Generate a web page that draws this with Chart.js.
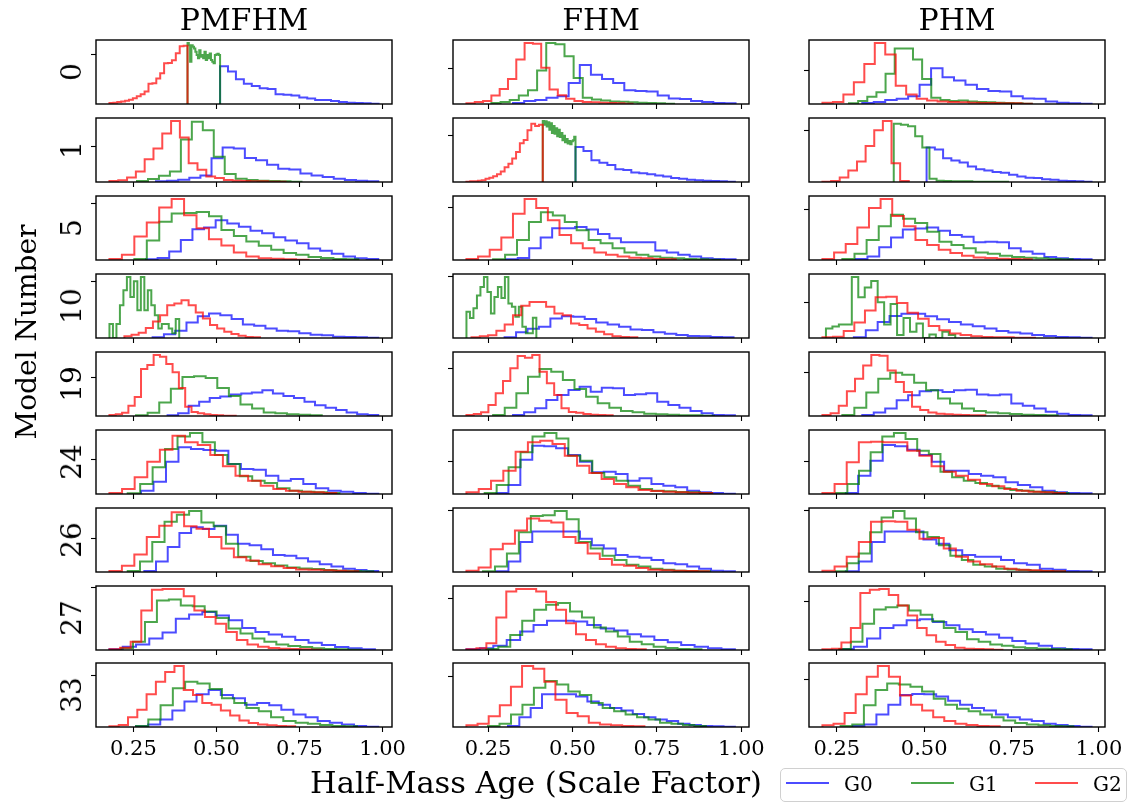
<!DOCTYPE html>
<html>
<head>
<meta charset="utf-8">
<script src="https://cdn.jsdelivr.net/npm/chart.js@4.4.0/dist/chart.umd.min.js"></script>
<style>
  body { margin: 0; width: 1139px; height: 803px; position: relative; overflow: hidden; background: #fff; font-family: 'DejaVu Serif', serif; color: #000; }
  canvas { position: absolute; }
  .txt { position: absolute; white-space: nowrap; line-height: 1; }
  .legend { position: absolute; left: 780px; top: 768px; width: 347px; height: 34px; box-sizing: border-box; border: 1px solid #d0d0d0; border-radius: 5px; background: #fff; }
  .swatch { position: absolute; height: 2px; }
</style>
</head>
<body>
<script>
// Half-mass age histograms: 3 methods x 9 models, three generations each
const methods = ['PMFHM', 'FHM', 'PHM'];
const models = ['0', '1', '5', '10', '19', '24', '26', '27', '33'];
const groups = ['G0', 'G1', 'G2'];
const xTicks = [0.25, 0.5, 0.75, 1.0];

// y tick position per panel, rows = models, cols = methods
const yTickAt = [
  [152, 109, 102],
  [109, 142, 157],
  [173, 159, 153],
  [172, 187, 109],
  [118, 143, 133],
  [105, 98, 98],
  [104, 190, 190],
  [190, 155, 147],
  [158, 153, 146]
];

// ---- PMFHM ----  edges = [first, last] bin edge for G0, G1, G2
const PMFHM_0_edges = [[0.511, 0.988], [0.413, 0.511], [0.178, 0.413]];
const PMFHM_0_G0 = [116, 100, 76, 62, 55, 48, 46, 30, 28, 26, 20, 17, 12, 12, 9, 6, 4, 3, 2, 1];
const PMFHM_0_G1 = [187, 180, 130, 180, 176, 170, 160, 150, 140, 165, 145, 150, 140, 160, 135, 150, 140, 155, 135, 130, 125, 150, 152, 154, 150];
const PMFHM_0_G2 = [3, 4, 6, 8, 10, 13, 18, 24, 30, 38, 62, 64, 78, 94, 125, 126, 134, 156, 177, 179];

const PMFHM_1_edges = [[0.318, 0.987], [0.261, 0.756], [0.178, 0.708]];
const PMFHM_1_G0 = [2, 4, 7, 13, 20, 72, 105, 102, 73, 66, 52, 40, 38, 26, 20, 15, 10, 6, 4, 2];
const PMFHM_1_G1 = [3, 9, 19, 32, 129, 183, 157, 77, 24, 10, 6, 4, 3, 2, 1];
const PMFHM_1_G2 = [3, 5, 14, 32, 69, 102, 147, 185, 135, 57, 37, 17, 12, 6, 4, 3, 2, 2, 1, 1];

const PMFHM_5_edges = [[0.288, 0.987], [0.253, 0.927], [0.178, 0.777]];
const PMFHM_5_G0 = [2, 6, 26, 61, 93, 99, 121, 111, 101, 89, 81, 69, 59, 51, 35, 28, 19, 11, 5, 3];
const PMFHM_5_G1 = [3, 59, 116, 141, 143, 146, 133, 91, 73, 56, 43, 31, 21, 16, 9, 6, 3, 2];
const PMFHM_5_G2 = [3, 16, 71, 114, 159, 185, 136, 96, 63, 44, 23, 11, 5, 4, 2, 1];

const PMFHM_10_edges = [[0.308, 0.987], [0.178, 0.388], [0.223, 0.631]];
const PMFHM_10_G0 = [2, 11, 22, 47, 66, 74, 69, 57, 41, 37, 29, 22, 20, 14, 10, 8, 4, 3, 2, 1];
const PMFHM_10_G1 = [42, 0, 42, 99, 144, 184, 124, 171, 84, 184, 84, 144, 99, 69, 29, 42, 42, 29, 14, 57];
const PMFHM_10_G2 = [5, 10, 16, 30, 50, 69, 99, 104, 114, 99, 77, 59, 39, 29, 19, 12, 7, 3, 2];

const PMFHM_19_edges = [[0.353, 0.987], [0.258, 0.817], [0.178, 0.558]];
const PMFHM_19_G0 = [2, 8, 31, 43, 55, 59, 65, 68, 71, 78, 68, 61, 55, 43, 33, 25, 18, 11, 5, 3];
const PMFHM_19_G1 = [2, 10, 41, 83, 118, 121, 115, 85, 61, 35, 23, 11, 8, 5, 4, 2];
const PMFHM_19_G2 = [3, 5, 10, 31, 58, 143, 155, 185, 180, 158, 133, 85, 28, 12, 8, 5, 3, 2, 1, 1];

const PMFHM_24_edges = [[0.273, 0.987], [0.233, 0.870], [0.178, 0.861]];
const PMFHM_24_G0 = [10, 37, 97, 140, 135, 132, 130, 90, 75, 73, 55, 40, 45, 30, 17, 10, 7, 3, 1];
const PMFHM_24_G1 = [2, 30, 80, 135, 173, 183, 155, 117, 90, 53, 40, 33, 17, 10, 7, 5, 3];
const PMFHM_24_G2 = [3, 15, 50, 97, 133, 175, 155, 147, 117, 83, 55, 40, 25, 15, 10, 7, 5, 3];

const PMFHM_26_edges = [[0.283, 0.987], [0.233, 0.972], [0.178, 0.927]];
const PMFHM_26_G0 = [3, 32, 77, 120, 137, 132, 142, 114, 87, 82, 70, 52, 50, 42, 32, 24, 17, 10, 6, 3];
const PMFHM_26_G1 = [3, 32, 92, 154, 176, 187, 152, 140, 87, 47, 34, 27, 20, 14, 11, 9, 6, 4, 3, 2];
const PMFHM_26_G2 = [3, 19, 54, 107, 142, 183, 140, 133, 107, 72, 45, 35, 24, 18, 12, 8, 7, 5, 4, 2];

const PMFHM_27_edges = [[0.178, 0.977], [0.213, 0.932], [0.178, 0.817]];
const PMFHM_27_G0 = [2, 10, 17, 35, 53, 95, 108, 115, 105, 90, 67, 55, 47, 40, 30, 22, 15, 9, 5, 2];
const PMFHM_27_G1 = [5, 25, 85, 150, 153, 135, 133, 117, 97, 65, 50, 35, 25, 17, 12, 9, 5, 3, 2, 1];
const PMFHM_27_G2 = [2, 7, 25, 120, 183, 185, 185, 163, 120, 100, 80, 55, 30, 17, 10, 6, 4, 3, 2, 1];

const PMFHM_33_edges = [[0.258, 0.987], [0.258, 0.923], [0.178, 0.737]];
const PMFHM_33_G0 = [2, 8, 23, 50, 78, 100, 113, 98, 88, 68, 73, 66, 53, 38, 30, 18, 13, 8, 3, 1];
const PMFHM_33_G1 = [3, 23, 66, 118, 138, 133, 116, 88, 73, 58, 48, 30, 18, 13, 10, 6, 3, 2];
const PMFHM_33_G2 = [2, 6, 30, 53, 100, 138, 168, 186, 113, 98, 73, 68, 50, 35, 20, 12, 8, 5, 3, 2];

// ---- FHM ----
const FHM_0_edges = [[0.324, 0.983], [0.260, 0.801], [0.186, 0.678]];
const FHM_0_G0 = [3, 9, 12, 19, 24, 64, 119, 89, 76, 64, 42, 40, 38, 26, 17, 15, 9, 6, 3, 2];
const FHM_0_G1 = [3, 6, 12, 26, 42, 102, 186, 182, 146, 79, 19, 14, 11, 8, 7, 5, 4, 3, 2, 1];
const FHM_0_G2 = [2, 6, 9, 26, 46, 76, 136, 186, 184, 111, 44, 27, 16, 9, 6, 5, 4, 3, 2, 1];

const FHM_1_edges = [[0.509, 0.981], [0.412, 0.509], [0.186, 0.412]];
const FHM_1_G0 = [107, 95, 67, 59, 52, 39, 37, 29, 27, 24, 20, 17, 12, 10, 7, 5, 4, 3, 2, 1];
const FHM_1_G1 = [187, 176, 186, 170, 183, 160, 180, 150, 172, 148, 165, 140, 160, 138, 150, 128, 142, 122, 132, 118, 126, 116, 125, 128, 139];
const FHM_1_G2 = [1, 2, 2, 4, 5, 10, 13, 18, 24, 32, 45, 56, 72, 92, 119, 129, 159, 179, 172, 176];

const FHM_5_edges = [[0.304, 0.983], [0.265, 0.937], [0.186, 0.806]];
const FHM_5_G0 = [2, 6, 36, 69, 97, 97, 101, 93, 79, 66, 54, 54, 54, 29, 23, 16, 11, 5, 3, 2];
const FHM_5_G1 = [2, 16, 61, 116, 146, 136, 116, 91, 61, 51, 36, 23, 16, 11, 7, 5, 3, 2, 1];
const FHM_5_G2 = [3, 11, 31, 69, 141, 186, 159, 121, 76, 51, 36, 23, 16, 11, 7, 5, 3, 2];

const FHM_10_edges = [[0.299, 0.977], [0.186, 0.393], [0.201, 0.692]];
const FHM_10_G0 = [2, 17, 28, 34, 59, 66, 64, 57, 47, 41, 34, 26, 24, 17, 13, 9, 6, 5, 3, 2];
const FHM_10_G1 = [79, 60, 90, 128, 154, 184, 139, 74, 124, 154, 121, 184, 104, 94, 64, 94, 34, 14, 14, 61];
const FHM_10_G2 = [2, 5, 8, 22, 41, 69, 97, 109, 109, 94, 74, 69, 44, 39, 29, 19, 11, 5, 3, 2];

const FHM_19_edges = [[0.324, 0.981], [0.265, 0.919], [0.186, 0.619]];
const FHM_19_G0 = [3, 11, 23, 48, 63, 78, 88, 73, 85, 83, 63, 65, 68, 43, 33, 25, 15, 8, 3, 2];
const FHM_19_G1 = [3, 25, 68, 118, 141, 133, 108, 81, 58, 38, 25, 15, 11, 7, 5, 4, 2, 2, 1];
const FHM_19_G2 = [3, 6, 11, 33, 68, 105, 143, 180, 175, 183, 133, 98, 63, 23, 12, 10, 6, 4, 3, 2];

const FHM_24_edges = [[0.275, 0.981], [0.240, 0.913], [0.186, 0.914]];
const FHM_24_G0 = [3, 27, 103, 145, 143, 137, 117, 97, 65, 67, 60, 40, 47, 30, 25, 20, 10, 5, 3, 1];
const FHM_24_G1 = [3, 27, 80, 125, 173, 183, 167, 115, 100, 63, 50, 40, 25, 15, 10, 8, 6, 5, 3];
const FHM_24_G2 = [5, 15, 40, 70, 127, 155, 160, 150, 115, 85, 63, 45, 30, 20, 12, 9, 7, 5, 4, 3];

const FHM_26_edges = [[0.275, 0.981], [0.235, 0.908], [0.186, 0.904]];
const FHM_26_G0 = [2, 32, 92, 124, 124, 124, 124, 102, 82, 72, 52, 47, 44, 37, 27, 24, 17, 10, 4, 2];
const FHM_26_G1 = [2, 17, 57, 122, 172, 174, 187, 162, 92, 72, 50, 37, 22, 17, 10, 7, 4, 3, 2];
const FHM_26_G2 = [4, 14, 70, 87, 127, 164, 157, 152, 107, 89, 57, 40, 22, 19, 12, 7, 5, 4, 3, 2];

const FHM_27_edges = [[0.186, 0.981], [0.245, 0.882], [0.186, 0.717]];
const FHM_27_G0 = [2, 5, 13, 30, 55, 75, 87, 87, 85, 75, 64, 58, 47, 40, 30, 23, 15, 10, 5, 2];
const FHM_27_G1 = [3, 10, 45, 87, 120, 135, 140, 115, 97, 67, 55, 40, 25, 17, 10, 6, 3, 2];
const FHM_27_G2 = [2, 5, 20, 97, 175, 182, 182, 175, 143, 120, 80, 47, 30, 17, 10, 5, 3, 2];

const FHM_33_edges = [[0.309, 0.981], [0.250, 0.895], [0.186, 0.713]];
const FHM_33_G0 = [3, 30, 58, 100, 100, 100, 93, 78, 68, 58, 50, 40, 30, 23, 18, 10, 6, 3, 2, 1];
const FHM_33_G1 = [3, 10, 38, 68, 120, 140, 130, 108, 98, 73, 58, 48, 38, 30, 23, 13, 10, 6, 3];
const FHM_33_G2 = [5, 10, 33, 66, 123, 186, 178, 138, 83, 43, 33, 13, 8, 5, 3, 2];

// ---- PHM ----
const PHM_0_edges = [[0.323, 0.979], [0.285, 0.808], [0.209, 0.808]];
const PHM_0_G0 = [3, 6, 12, 16, 24, 59, 109, 82, 72, 59, 46, 40, 38, 24, 17, 16, 8, 4, 2, 1];
const PHM_0_G1 = [2, 9, 22, 36, 92, 169, 169, 136, 76, 19, 12, 9, 11, 8, 6, 5, 4, 3, 2, 1];
const PHM_0_G2 = [4, 6, 29, 66, 122, 186, 151, 56, 29, 16, 11, 8, 6, 5, 4, 3, 3, 2, 2, 1];

const PHM_1_edges = [[0.507, 0.979], [0.413, 0.740], [0.209, 0.456]];
const PHM_1_G0 = [105, 99, 72, 65, 59, 47, 39, 35, 30, 28, 22, 17, 13, 12, 8, 7, 4, 3, 2, 1];
const PHM_1_G1 = [177, 174, 169, 139, 105, 10, 4, 3, 2, 2, 2, 1, 1, 1, 1, 1];
const PHM_1_G2 = [1, 3, 14, 35, 62, 109, 157, 185, 57, 3];

const PHM_5_edges = [[0.304, 0.979], [0.266, 0.925], [0.209, 0.808]];
const PHM_5_G0 = [3, 11, 39, 69, 93, 96, 99, 89, 76, 71, 54, 56, 54, 36, 26, 19, 9, 5, 3, 2];
const PHM_5_G1 = [3, 19, 61, 103, 138, 126, 113, 86, 56, 46, 36, 23, 19, 13, 9, 7, 5, 3, 2];
const PHM_5_G2 = [3, 23, 49, 99, 159, 186, 134, 103, 61, 46, 31, 21, 13, 8, 6, 4, 3, 2];

const PHM_10_edges = [[0.299, 0.979], [0.219, 0.589], [0.209, 0.817]];
const PHM_10_G0 = [2, 24, 49, 67, 74, 74, 66, 57, 49, 41, 36, 29, 21, 17, 14, 9, 6, 3, 2, 1];
const PHM_10_G1 = [29, 35, 41, 41, 186, 124, 154, 174, 109, 41, 104, 9, 61, 19, 44, 0, 11, 0, 19, 9];
const PHM_10_G2 = [2, 4, 21, 47, 84, 124, 126, 107, 77, 59, 37, 24, 14, 9, 5, 3, 2, 2, 1, 1];

const PHM_19_edges = [[0.323, 0.979], [0.266, 0.882], [0.209, 0.675]];
const PHM_19_G0 = [3, 11, 23, 48, 63, 75, 78, 73, 78, 80, 65, 63, 65, 38, 31, 23, 13, 7, 3, 2];
const PHM_19_G1 = [3, 25, 71, 113, 131, 125, 101, 78, 53, 38, 23, 15, 11, 8, 6, 4, 3, 2];
const PHM_19_G2 = [3, 8, 31, 75, 113, 153, 185, 183, 138, 103, 73, 28, 18, 11, 7, 5, 4, 3, 2, 2];

const PHM_24_edges = [[0.276, 0.979], [0.247, 0.913], [0.209, 0.903]];
const PHM_24_G0 = [3, 55, 100, 147, 143, 133, 117, 97, 70, 70, 60, 55, 50, 35, 27, 20, 10, 5, 3, 2];
const PHM_24_G1 = [3, 30, 70, 125, 173, 183, 165, 130, 120, 67, 50, 40, 33, 25, 17, 12, 10, 7, 5, 3];
const PHM_24_G2 = [3, 30, 95, 155, 157, 155, 155, 130, 115, 83, 67, 55, 43, 30, 23, 15, 10, 7, 5, 3];

const PHM_26_edges = [[0.276, 0.979], [0.247, 0.903], [0.209, 0.903]];
const PHM_26_G0 = [2, 32, 92, 124, 124, 124, 100, 87, 67, 52, 47, 47, 37, 27, 22, 10, 7, 3, 2];
const PHM_26_G1 = [2, 27, 57, 122, 167, 187, 164, 122, 107, 82, 50, 37, 22, 17, 10, 8, 6, 4, 3, 2];
const PHM_26_G2 = [4, 17, 47, 92, 154, 156, 154, 130, 102, 104, 72, 47, 32, 24, 17, 10, 7, 5, 3, 2];

const PHM_27_edges = [[0.261, 0.979], [0.257, 0.922], [0.209, 0.724]];
const PHM_27_G0 = [3, 10, 35, 67, 75, 90, 93, 85, 75, 63, 55, 47, 37, 27, 20, 13, 5, 3, 2];
const PHM_27_G1 = [3, 25, 80, 123, 130, 135, 120, 107, 87, 67, 55, 33, 25, 17, 13, 8, 6, 4, 3, 2];
const PHM_27_G2 = [2, 4, 23, 67, 173, 183, 185, 167, 135, 105, 67, 45, 25, 15, 7, 4, 3, 2, 1];

const PHM_33_edges = [[0.295, 0.979], [0.261, 0.927], [0.209, 0.716]];
const PHM_33_G0 = [3, 8, 38, 68, 98, 101, 100, 93, 80, 68, 58, 50, 38, 30, 23, 18, 10, 6, 3, 1];
const PHM_33_G1 = [3, 8, 66, 113, 133, 130, 123, 108, 86, 68, 56, 48, 38, 30, 20, 12, 8, 5, 3, 2];
const PHM_33_G2 = [5, 10, 43, 100, 153, 186, 153, 96, 68, 50, 30, 18, 10, 6, 3, 2];

// panel lookup: [edges, G0, G1, G2], rows = models, cols = methods
const panels = [
  [[PMFHM_0_edges, PMFHM_0_G0, PMFHM_0_G1, PMFHM_0_G2], [FHM_0_edges, FHM_0_G0, FHM_0_G1, FHM_0_G2], [PHM_0_edges, PHM_0_G0, PHM_0_G1, PHM_0_G2]],
  [[PMFHM_1_edges, PMFHM_1_G0, PMFHM_1_G1, PMFHM_1_G2], [FHM_1_edges, FHM_1_G0, FHM_1_G1, FHM_1_G2], [PHM_1_edges, PHM_1_G0, PHM_1_G1, PHM_1_G2]],
  [[PMFHM_5_edges, PMFHM_5_G0, PMFHM_5_G1, PMFHM_5_G2], [FHM_5_edges, FHM_5_G0, FHM_5_G1, FHM_5_G2], [PHM_5_edges, PHM_5_G0, PHM_5_G1, PHM_5_G2]],
  [[PMFHM_10_edges, PMFHM_10_G0, PMFHM_10_G1, PMFHM_10_G2], [FHM_10_edges, FHM_10_G0, FHM_10_G1, FHM_10_G2], [PHM_10_edges, PHM_10_G0, PHM_10_G1, PHM_10_G2]],
  [[PMFHM_19_edges, PMFHM_19_G0, PMFHM_19_G1, PMFHM_19_G2], [FHM_19_edges, FHM_19_G0, FHM_19_G1, FHM_19_G2], [PHM_19_edges, PHM_19_G0, PHM_19_G1, PHM_19_G2]],
  [[PMFHM_24_edges, PMFHM_24_G0, PMFHM_24_G1, PMFHM_24_G2], [FHM_24_edges, FHM_24_G0, FHM_24_G1, FHM_24_G2], [PHM_24_edges, PHM_24_G0, PHM_24_G1, PHM_24_G2]],
  [[PMFHM_26_edges, PMFHM_26_G0, PMFHM_26_G1, PMFHM_26_G2], [FHM_26_edges, FHM_26_G0, FHM_26_G1, FHM_26_G2], [PHM_26_edges, PHM_26_G0, PHM_26_G1, PHM_26_G2]],
  [[PMFHM_27_edges, PMFHM_27_G0, PMFHM_27_G1, PMFHM_27_G2], [FHM_27_edges, FHM_27_G0, FHM_27_G1, FHM_27_G2], [PHM_27_edges, PHM_27_G0, PHM_27_G1, PHM_27_G2]],
  [[PMFHM_33_edges, PMFHM_33_G0, PMFHM_33_G1, PMFHM_33_G2], [FHM_33_edges, FHM_33_G0, FHM_33_G1, FHM_33_G2], [PHM_33_edges, PHM_33_G0, PHM_33_G1, PHM_33_G2]]
];

const colors = ['rgba(0,0,255,0.7)', 'rgba(0,128,0,0.7)', 'rgba(255,0,0,0.7)'];
const colLeft = [96, 453, 809];
const rowTop = [40, 118, 196, 274, 352, 430, 508, 586, 663];
const panelW = 296, panelH = 64;
const PADL = 30, PADR = 30, PADT = 4;

// step outline of a histogram (like histtype='step')
function outline(edges, counts) {
  const [lo, hi] = edges;
  const w = (hi - lo) / counts.length;
  const pts = [{x: lo, y: 0}];
  counts.forEach((c, i) => pts.push({x: lo + i * w, y: c}));
  pts.push({x: hi, y: 0});
  return pts;
}

// shared x range per column, 5% margin round the data
const xRange = methods.map((m, c) => {
  let lo = Infinity, hi = -Infinity;
  panels.forEach(row => row[c][0].forEach(e => { lo = Math.min(lo, e[0]); hi = Math.max(hi, e[1]); }));
  const pad = 0.05 * (hi - lo);
  return [lo - pad, hi + pad];
});

// box round each axes
const frame = {
  id: 'frame',
  afterDraw(chart) {
    const {ctx, chartArea: a} = chart;
    ctx.save();
    ctx.strokeStyle = '#000';
    ctx.lineWidth = 1.4;
    ctx.strokeRect(a.left, a.top, a.right - a.left, a.bottom - a.top);
    ctx.restore();
  }
};

const tickGrid = {drawOnChartArea: false, drawTicks: true, tickLength: 5, tickWidth: 1.1, tickColor: '#000'};

function addText(text, x, y, size, rotate) {
  const d = document.createElement('div');
  d.className = 'txt';
  d.textContent = text;
  d.style.fontSize = size + 'px';
  d.style.left = x + 'px';
  d.style.top = y + 'px';
  d.style.transform = rotate ? 'translate(-50%,-50%) rotate(-90deg)' : 'translateX(-50%)';
  document.body.appendChild(d);
}

models.forEach((model, r) => {
  const bottomRow = r === models.length - 1;
  const axisH = bottomRow ? 40 : 8;
  methods.forEach((method, c) => {
    const [edges, ...counts] = panels[r][c];
    const ymax = 1.05 * Math.max(...counts.flat());
    const cv = document.createElement('canvas');
    cv.width = panelW + PADL + PADR;
    cv.height = panelH + PADT + axisH;
    cv.style.left = (colLeft[c] - PADL) + 'px';
    cv.style.top = (rowTop[r] - PADT) + 'px';
    cv.style.width = cv.width + 'px';
    cv.style.height = cv.height + 'px';
    document.body.appendChild(cv);

    new Chart(cv, {
      type: 'line',
      data: {
        datasets: groups.map((g, k) => ({
          label: g,
          data: outline(edges[k], counts[k]),
          borderColor: colors[k],
          borderWidth: 2,
          pointRadius: 0,
          fill: false,
          stepped: 'before',
          order: 2 - k
        }))
      },
      options: {
        responsive: false,
        animation: false,
        devicePixelRatio: 1,
        events: [],
        layout: {padding: {left: PADL - 6, right: PADR, top: PADT, bottom: 0}},
        plugins: {legend: {display: false}, tooltip: {enabled: false}},
        scales: {
          x: {
            type: 'linear',
            min: xRange[c][0],
            max: xRange[c][1],
            afterBuildTicks: s => { s.ticks = xTicks.map(v => ({value: v})); },
            afterFit: s => { s.height = axisH; },
            grid: tickGrid,
            border: {display: false},
            ticks: {
              display: bottomRow,
              padding: 5,
              color: '#000',
              maxRotation: 0,
              autoSkip: false,
              font: {family: 'DejaVu Serif', size: 21},
              callback: v => v.toFixed(2)
            }
          },
          y: {
            type: 'linear',
            min: 0,
            max: ymax,
            afterBuildTicks: s => { s.ticks = [{value: yTickAt[r][c]}]; },
            afterFit: s => { s.width = 6; },
            grid: tickGrid,
            border: {display: false},
            ticks: {display: false}
          }
        }
      },
      plugins: [frame]
    });
  });
  addText(model, 72, rowTop[r] + panelH / 2, 28, true);
});

methods.forEach((m, c) => addText(m, colLeft[c] + panelW / 2, 5, 30, false));
addText('Model Number', 27, 332, 28, true);
addText('Half-Mass Age (Scale Factor)', 536, 768, 30.5, false);

// legend
const lg = document.createElement('div');
lg.className = 'legend';
document.body.appendChild(lg);
const legendX = [786, 911, 1035];
groups.forEach((g, k) => {
  const s = document.createElement('div');
  s.className = 'swatch';
  s.style.left = legendX[k] + 'px';
  s.style.top = '782px';
  s.style.width = '43px';
  s.style.background = colors[k];
  document.body.appendChild(s);
  const t = document.createElement('div');
  t.className = 'txt';
  t.textContent = g;
  t.style.fontSize = '20px';
  t.style.left = (legendX[k] + 58) + 'px';
  t.style.top = '774px';
  document.body.appendChild(t);
});
</script>
</body>
</html>
